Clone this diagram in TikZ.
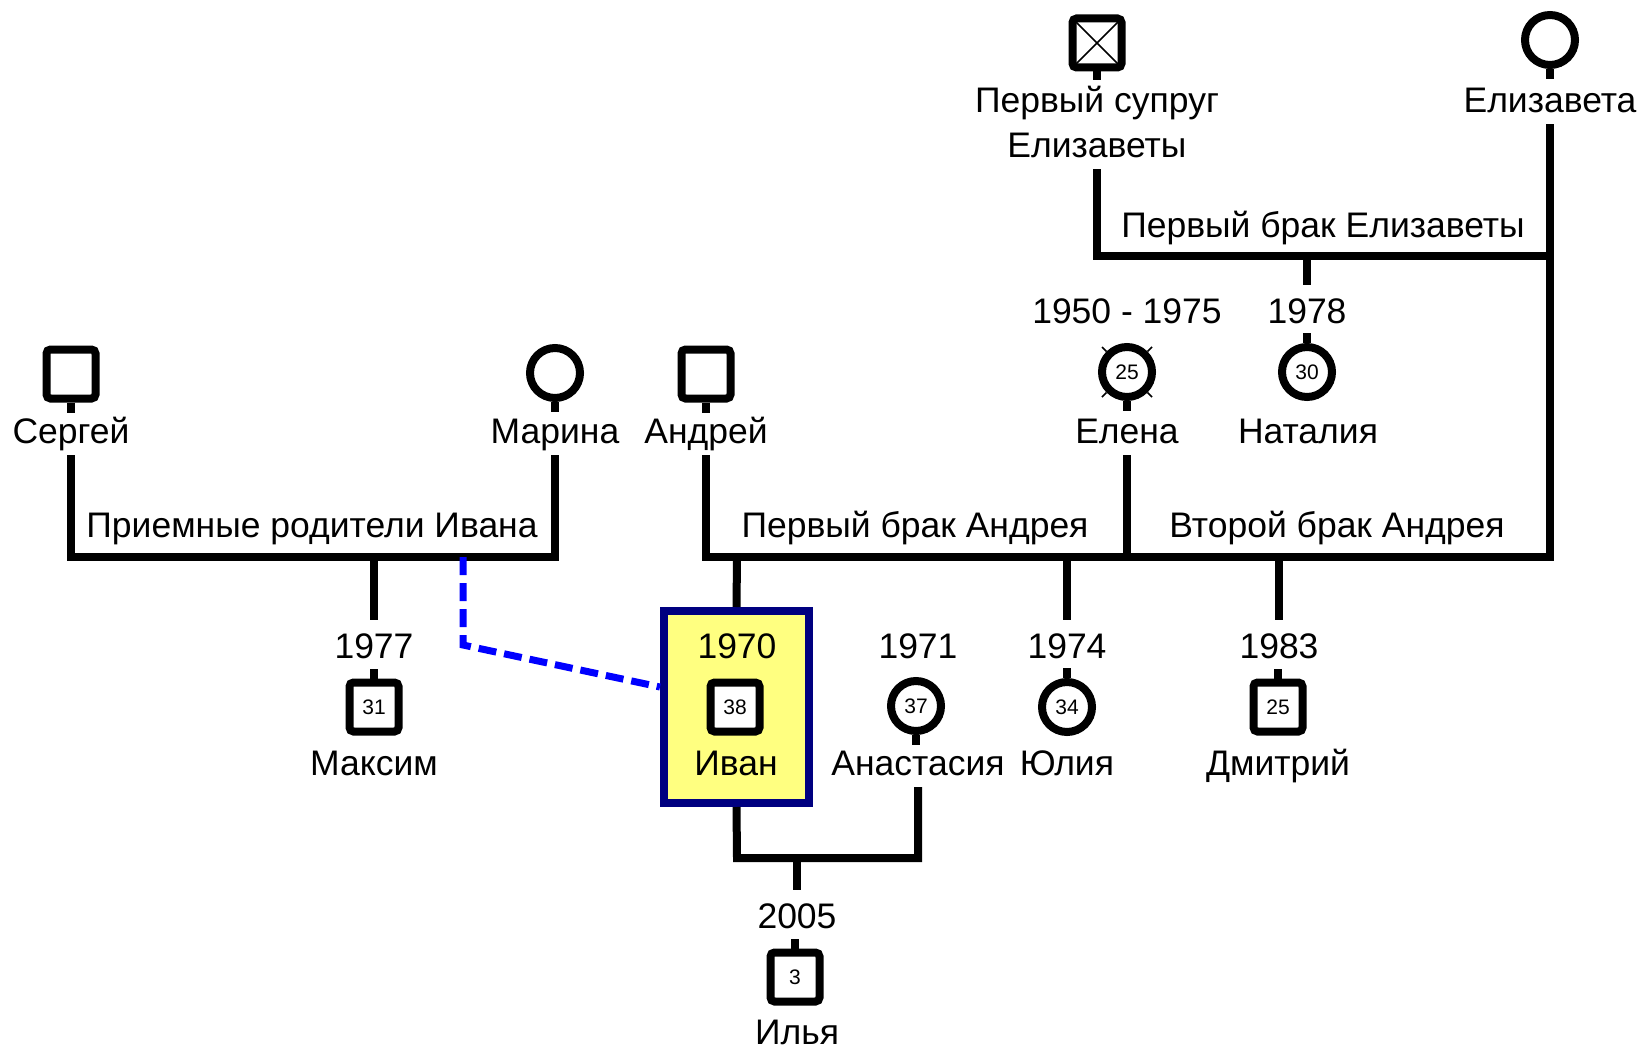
\documentclass[tikz,border=0pt]{standalone}
\usepackage{fontspec}
\setmainfont{Liberation Sans}
\definecolor{boxnavy}{HTML}{000080}
\definecolor{boxyellow}{HTML}{FFFF80}
\definecolor{dashblue}{HTML}{0000FF}
\begin{document}
\begin{tikzpicture}[x=1pt,y=-1pt,
  conn/.style={line width=8pt, line join=miter},
  stub/.style={line width=8pt},
  adopt/.style={line width=7pt, draw=dashblue, dash pattern=on 18pt off 8pt},
  male/.style={draw, line width=8pt, rectangle, rounded corners=4pt, minimum size=49pt, inner sep=0pt, fill=white, font=\fontsize{21}{21}\selectfont},
  female/.style={draw, line width=8pt, circle, minimum size=50pt, inner sep=0pt, fill=white, font=\fontsize{21}{21}\selectfont},
  nm/.style={font=\fontsize{35.5}{35.5}\selectfont, inner sep=0pt, outer xsep=0pt, outer ysep=4pt, text height=25pt, text depth=8pt, anchor=base},
  yr/.style={font=\fontsize{35.5}{35.5}\selectfont, inner sep=0pt, outer xsep=0pt, outer ysep=13pt, text height=25pt, text depth=0pt, anchor=base},
  unionlbl/.style={font=\fontsize{35.5}{35.5}\selectfont, inner sep=0pt, anchor=base},
  xmark/.style={line width=1.6pt}
]
\fill[white] (0,0) rectangle (1644,1049);
\useasboundingbox (0,0) rectangle (1644,1049);

% highlighted box of Ivan
\node[draw=boxnavy, fill=boxyellow, line width=8pt, minimum width=145pt, minimum height=192pt, inner sep=0pt] (ivanbox) at (736.5,707) {};

% symbols
\node[male] (sergei) at (71,374) {};
\node[female] (marina) at (555,373) {};
\node[male] (andrei) at (706,374) {};
\node[female] (elena) at (1127,372) {25};
\node[female] (natalia) at (1307,372) {30};
\node[male, path picture={\draw[line width=1.6pt] (path picture bounding box.north west) -- (path picture bounding box.south east) (path picture bounding box.north east) -- (path picture bounding box.south west);}] (husband) at (1097,43) {};
\node[female] (elizaveta) at (1550,40) {};
\node[male] (maxim) at (374,707) {31};
\node[male] (ivan) at (735,707) {38};
\node[female] (anastasia) at (916,706) {37};
\node[female] (julia) at (1067,707) {34};
\node[male] (dmitry) at (1278,707) {25};
\node[male] (ilya) at (795,977) {3};

% deceased marks for Elena
\draw[xmark] (elena.45) -- ++(4.5,-4.5);
\draw[xmark] (elena.135) -- ++(-4.5,-4.5);
\draw[xmark] (elena.225) -- ++(-4.5,4.5);
\draw[xmark] (elena.315) -- ++(4.5,4.5);

% stubs
\draw[stub] (sergei.south) -- ++(0,10);
\draw[stub] (marina.south) -- ++(0,10);
\draw[stub] (andrei.south) -- ++(0,10);
\draw[stub] (elena.south) -- ++(0,10);
\draw[stub] (husband.south) -- ++(0,9);
\draw[stub] (elizaveta.south) -- ++(0,10);
\draw[stub] (anastasia.south) -- ++(0,10);
\draw[stub] (natalia.north) -- ++(0,-10);
\draw[stub] (maxim.north) -- ++(0,-10);
\draw[stub] (julia.north) -- ++(0,-10);
\draw[stub] (dmitry.north) -- ++(0,-10);
\draw[stub] (ilya.north) -- ++(0,-10);

% names
\node[nm] (sergeiN) at (71,443) {Сергей};
\node[nm] (marinaN) at (555,443) {Марина};
\node[nm] (andreiN) at (706,443) {Андрей};
\node[nm] (elenaN) at (1127,443) {Елена};
\node[nm] (nataliaN) at (1308,443) {Наталия};
\node[nm] (husbandN1) at (1097,112) {Первый супруг};
\node[nm] (husbandN) at (1097,157) {Елизаветы};
\node[nm] (elizavetaN) at (1550,112) {Елизавета};
\node[nm] (maximN) at (374,775) {Максим};
\node[nm] (ivanN) at (736,775) {Иван};
\node[nm] (anastasiaN) at (918,775) {Анастасия};
\node[nm] (juliaN) at (1067,775) {Юлия};
\node[nm] (dmitryN) at (1278,775) {Дмитрий};
\node[nm, text depth=0pt, outer ysep=0pt] (ilyaN) at (797,1044) {Илья};

% years
\node[yr] (elenaY) at (1127,323) {1950 - 1975};
\node[yr] (nataliaY) at (1307,323) {1978};
\node[yr] (maximY) at (374,658) {1977};
\node[yr] (ivanY) at (737,658) {1970};
\node[yr] (anastasiaY) at (918,658) {1971};
\node[yr] (juliaY) at (1067,658) {1974};
\node[yr] (dmitryY) at (1279,658) {1983};
\node[yr] (ilyaY) at (797,928) {2005};

% union labels
\node[unionlbl] (fosterL) at (312,537) {Приемные родители Ивана};
\node[unionlbl] (andrei1L) at (915,537) {Первый брак Андрея};
\node[unionlbl] (andrei2L) at (1337,537) {Второй брак Андрея};
\node[unionlbl] (eliz1L) at (1323,237) {Первый брак Елизаветы};

% junction coordinates
\coordinate (fosterA) at (71,557);
\coordinate (fosterB) at (555,557);
\coordinate (andreiA) at (706,557);
\coordinate (andreiB) at (1550,557);
\coordinate (elenaJ) at (1127,557);
\coordinate (husbandJ) at (1097,256);
\coordinate (elizJ) at (1550,256);
\coordinate (nataliaJ) at (1307,256);
\coordinate (maximJ) at (374,557);
\coordinate (ivanJ) at (737,557);
\coordinate (juliaJ) at (1067,557);
\coordinate (dmitryJ) at (1279,557);
\coordinate (ivanU) at (737,858);
\coordinate (anastasiaU) at (918,858);
\coordinate (ilyaJ) at (797,858);
\coordinate (adoptA) at (463,557);
\coordinate (adoptB) at (463,645);

% connectors
\draw[conn] (sergeiN.south) -- (fosterA) -- (fosterB) -- (marinaN.south);
\draw[conn] (maximJ) -- (maximY.north);
\draw[conn] (andreiN.south) -- (andreiA) -- (andreiB) -- (elizavetaN.south);
\draw[conn] (elenaN.south) -- (elenaJ);
\draw[conn] (ivanJ) -- (ivanbox.north);
\draw[conn] (juliaJ) -- (juliaY.north);
\draw[conn] (dmitryJ) -- (dmitryY.north);
\draw[conn] (husbandN.south) -- (husbandJ) -- (elizJ);
\draw[conn] (nataliaJ) -- (nataliaY.north);
\draw[conn] (ivanbox.south) -- (ivanU) -- (anastasiaU) -- (anastasiaN.south);
\draw[conn] (ilyaJ) -- (ilyaY.north);
\draw[adopt] (adoptA) -- (adoptB) -- ([yshift=20pt]ivanbox.west);
\end{tikzpicture}
\end{document}
